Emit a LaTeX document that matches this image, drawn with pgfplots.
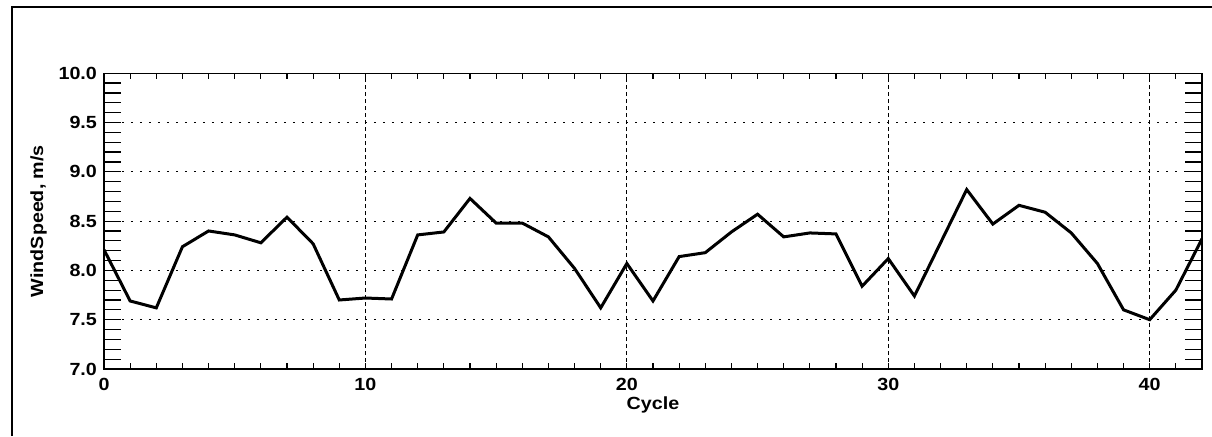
\documentclass[border=0pt]{standalone}
\usepackage{fontspec}
\setmainfont{Liberation Sans}[FakeStretch=1.12]
\usepackage{pgfplots}
\pgfplotsset{compat=1.18}
\begin{document}
\begin{tikzpicture}
\path[use as bounding box] (0,0) rectangle (606pt,218pt);
\draw[line width=1pt] (6pt,0) -- (6pt,214.5pt) -- (606pt,214.5pt);
\begin{axis}[
  at={(52pt,33.5pt)}, anchor=south west,
  scale only axis, width=549pt, height=147.9pt,
  xmin=0, xmax=42, ymin=7, ymax=10,
  xtick={0,1,...,42},
  xticklabels={0,{},{},{},{},{},{},{},{},{},10,{},{},{},{},{},{},{},{},{},20,{},{},{},{},{},{},{},{},{},30,{},{},{},{},{},{},{},{},{},40,{},{}},
  ytick={7,7.5,...,10},
  minor ytick={7,7.1,...,10},
  major tick length=3pt,
  minor tick length=8.5pt,
  tick style={black, line width=0.6pt},
  xmajorgrids=false, ymajorgrids=true,
  extra x ticks={10,20,30,40},
  extra x tick labels={},
  extra x tick style={grid=major},
  major x grid style={black, line width=0.5pt, dash pattern=on 2pt off 1.5pt},
  major y grid style={black, line width=0.5pt, dash pattern=on 1pt off 3.5pt},
  axis line style={line width=0.7pt},
  /pgf/number format/assume math mode=true,
  ticklabel style={font=\fontsize{8.8}{10}\selectfont\bfseries},
  y tick label style={/pgf/number format/fixed, /pgf/number format/fixed zerofill, /pgf/number format/precision=1},
  xlabel={Cycle}, ylabel={WindSpeed, m/s},
  label style={font=\fontsize{8.8}{10}\selectfont\bfseries},
  xlabel style={yshift=4pt},
  ylabel style={yshift=-1pt},
  xticklabel style={yshift=-1pt},
]
\addplot[black, line width=1.5pt, sharp plot] coordinates {
(0,8.21) (1,7.69) (2,7.62) (3,8.24) (4,8.40) (5,8.36) (6,8.28) (7,8.54)
(8,8.27) (9,7.70) (10,7.72) (11,7.71) (12,8.36) (13,8.39) (14,8.73)
(15,8.48) (16,8.48) (17,8.34) (18,8.02) (19,7.62) (20,8.07) (21,7.69)
(22,8.14) (23,8.18) (24,8.39) (25,8.57) (26,8.34) (27,8.38) (28,8.37)
(29,7.84) (30,8.12) (31,7.74) (32,8.28) (33,8.82) (34,8.47) (35,8.66)
(36,8.59) (37,8.38) (38,8.07) (39,7.60) (40,7.50) (41,7.80) (42,8.32)
};
\end{axis}
\end{tikzpicture}
\end{document}
